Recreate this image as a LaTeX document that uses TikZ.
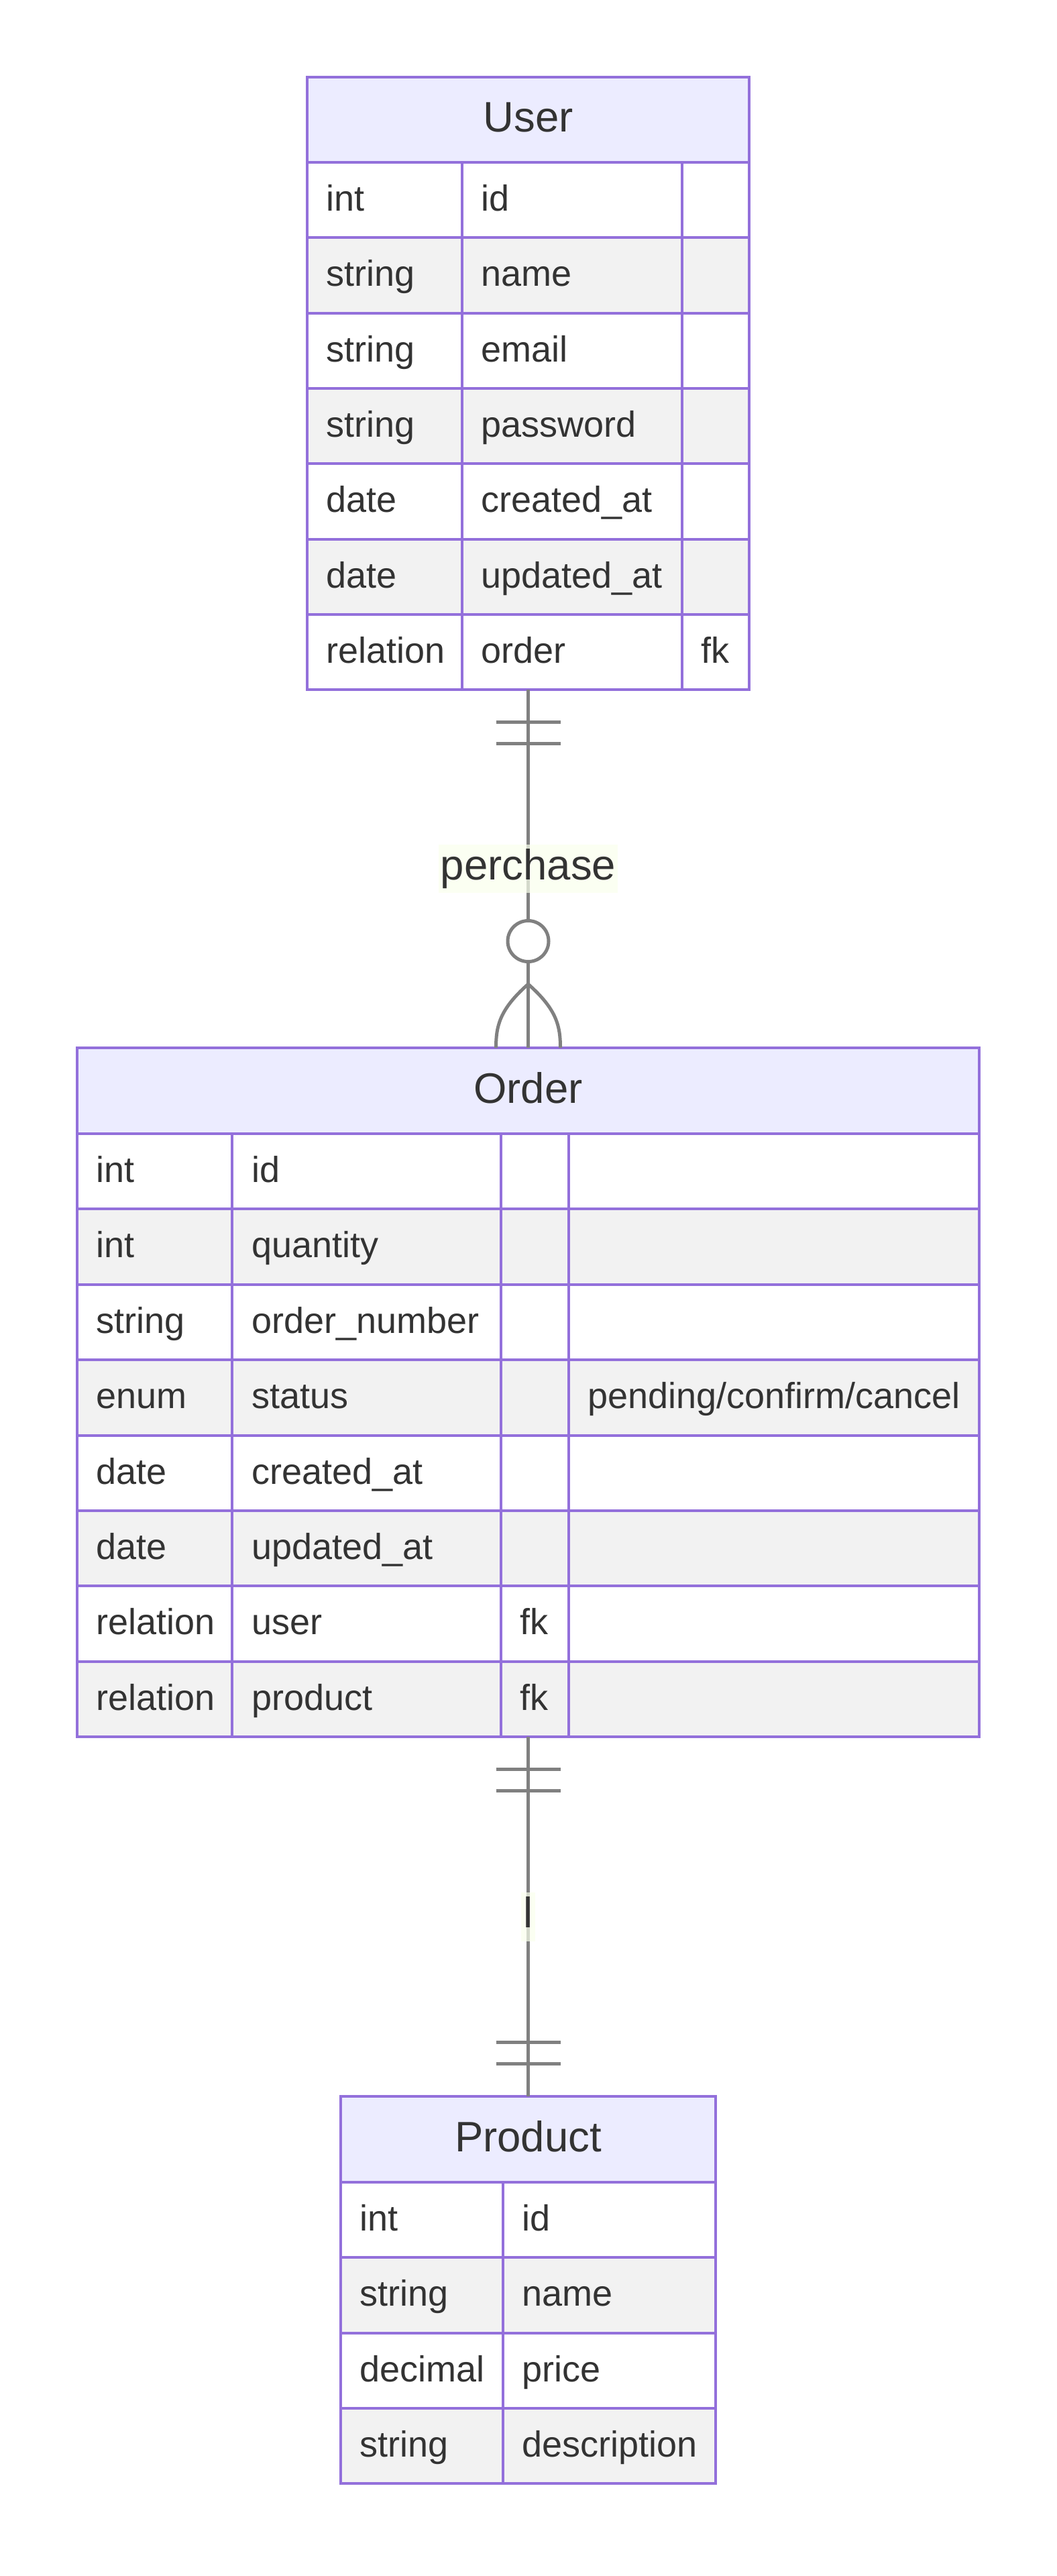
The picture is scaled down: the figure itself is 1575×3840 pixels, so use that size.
\documentclass[tikz,border=0pt]{standalone}
\usepackage{fontspec}
\setmainfont{Liberation Sans}
\usetikzlibrary{calc}
\definecolor{erline}{HTML}{9370DB}
\definecolor{erhead}{HTML}{ECECFF}
\definecolor{errow}{HTML}{F2F2F2}
\definecolor{ertext}{HTML}{333333}
\definecolor{erlabel}{HTML}{F9FFEC}
\definecolor{erlink}{HTML}{808080}
\tikzset{
 entity/.style={draw=erline,line width=4pt,inner sep=0pt,outer sep=0pt},
 cell/.style={erline,line width=4pt},
 title/.style={anchor=base,inner sep=0pt,text=ertext,font=\fontsize{63.5}{70}\selectfont},
 attr/.style={anchor=base west,inner sep=0pt,text=ertext,font=\fontsize{54}{60}\selectfont},
 rel/.style={draw=erlink,line width=5pt},
 rellabel/.style={fill=erlabel,fill opacity=0.7,text opacity=1,text=ertext,inner xsep=3pt,inner ysep=7pt,
   text height=45.5pt,text depth=13.3pt,font=\fontsize{63.5}{70}\selectfont},
 optional/.style={circle,draw=erlink,line width=5pt,fill=white,minimum size=61pt,inner sep=0pt}
}
\begin{document}
\begin{tikzpicture}[x=1pt,y=-1pt]
\useasboundingbox (0,0) rectangle (1575,3840);
% User
\fill[erhead] (458,115) rectangle (1117,242);
\fill[white] (458,242) rectangle (1117,1028);
\foreach \i in {1,3,5} \fill[errow] (458,{242+112.3*\i}) rectangle (1117,{354.3+112.3*\i});
\foreach \i in {0,...,6} \draw[cell] (458,{242+112.3*\i}) -- (1117,{242+112.3*\i});
\draw[cell] (689,242) -- (689,1028) (1017,242) -- (1017,1028);
\node[entity,minimum width=659pt,minimum height=913pt] (user) at (787.5,571.5) {};
\node[title] at (787.5,197) {User};
\foreach \t/\n [count=\i from 0] in {int/id,string/name,string/email,string/password,date/created\_at,date/updated\_at,relation/order}
 {\node[attr] at (486,{314.5+112.3*\i}) {\t}; \node[attr] at (717,{314.5+112.3*\i}) {\n};}
\node[attr] at (1045,988.3) {fk};
% Order
\fill[erhead] (115,1562) rectangle (1460,1690);
\fill[white] (115,1690) rectangle (1460,2589.2);
\foreach \i in {1,3,5,7} \fill[errow] (115,{1690+112.4*\i}) rectangle (1460,{1802.4+112.4*\i});
\foreach \i in {0,...,7} \draw[cell] (115,{1690+112.4*\i}) -- (1460,{1690+112.4*\i});
\draw[cell] (346,1690) -- (346,2589.2) (747,1690) -- (747,2589.2) (848,1690) -- (848,2589.2);
\node[entity,minimum width=1345pt,minimum height=1027.2pt] (order) at (787.5,2075.6) {};
\node[title] at (787.5,1644) {Order};
\foreach \t/\n [count=\i from 0] in {int/id,int/quantity,string/order\_number,enum/status,date/created\_at,date/updated\_at,relation/user,relation/product}
 {\node[attr] at (143,{1762.5+112.4*\i}) {\t}; \node[attr] at (375,{1762.5+112.4*\i}) {\n};}
\node[attr] at (876,2099.7) {pending/confirm/cancel};
\node[attr] at (775,2436.9) {fk};
\node[attr] at (775,2549.3) {fk};
% Product
\fill[erhead] (508,3125) rectangle (1067,3253);
\fill[white] (508,3253) rectangle (1067,3702.2);
\foreach \i in {1,3} \fill[errow] (508,{3253+112.3*\i}) rectangle (1067,{3365.3+112.3*\i});
\foreach \i in {0,...,3} \draw[cell] (508,{3253+112.3*\i}) -- (1067,{3253+112.3*\i});
\draw[cell] (750,3253) -- (750,3702.2);
\node[entity,minimum width=559pt,minimum height=577.2pt] (product) at (787.5,3413.6) {};
\node[title] at (787.5,3207) {Product};
\foreach \t/\n [count=\i from 0] in {int/id,string/name,decimal/price,string/description}
 {\node[attr] at (536,{3325.5+112.3*\i}) {\t}; \node[attr] at (778,{3325.5+112.3*\i}) {\n};}
% relations
\draw[rel] (user.south) -- node[rellabel] (buys) {perchase} (order.north);
\draw[rel] ($(user.south)+(-48,48)$) -- ++(96,0) ($(user.south)+(-48,80)$) -- ++(96,0);
\node[optional] (zero) at ($(order.north)+(0,-159)$) {};
\draw[rel] ($(order.north)+(0,-95)$) .. controls ($(order.north)+(-43,-57)$) and ($(order.north)+(-48,-32)$) .. ($(order.north)+(-48,0)$);
\draw[rel] ($(order.north)+(0,-95)$) .. controls ($(order.north)+(43,-57)$) and ($(order.north)+(48,-32)$) .. ($(order.north)+(48,0)$);
\draw[rel] (order.south) -- node[rellabel] (holds) {l} (product.north);
\draw[rel] ($(order.south)+(-48,48)$) -- ++(96,0) ($(order.south)+(-48,80)$) -- ++(96,0);
\draw[rel] ($(product.north)+(-48,-81)$) -- ++(96,0) ($(product.north)+(-48,-49)$) -- ++(96,0);
\end{tikzpicture}
\end{document}
